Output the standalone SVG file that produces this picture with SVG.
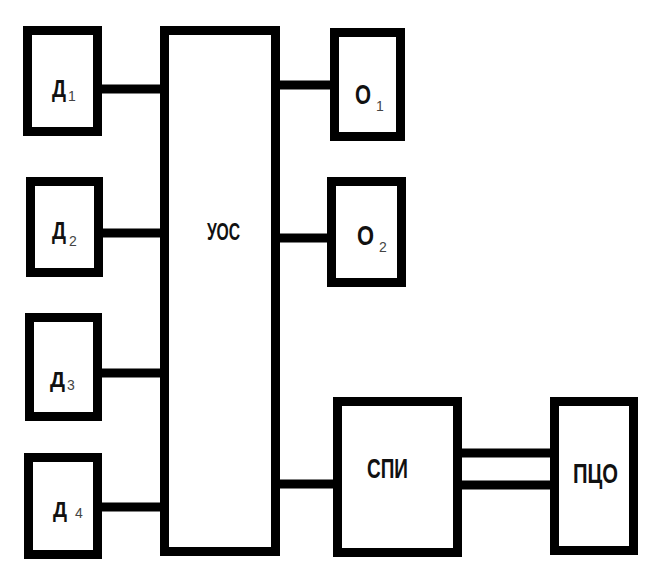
<svg xmlns="http://www.w3.org/2000/svg" width="650" height="581" viewBox="0 0 650 581">
<style>
.box{fill:#fff;stroke:#000;stroke-width:9}
.wire{stroke:#000;stroke-width:9;fill:none}
.lbl{font-family:"Liberation Sans",Arial,sans-serif;font-weight:bold;fill:#111}
.sub{font-family:"Liberation Sans",Arial,sans-serif;font-size:14px;fill:#444}
</style>
<rect width="650" height="581" fill="#fff"/>
<g id="connectors">
<line class="wire" x1="100" y1="89" x2="162" y2="89"/>
<line class="wire" x1="100" y1="233" x2="162" y2="233"/>
<line class="wire" x1="100" y1="373" x2="162" y2="373"/>
<line class="wire" x1="100" y1="507" x2="162" y2="507"/>
<line class="wire" x1="278" y1="85" x2="332" y2="85"/>
<line class="wire" x1="278" y1="238" x2="329" y2="238"/>
<line class="wire" x1="278" y1="484" x2="335" y2="484"/>
<line class="wire" x1="460" y1="453" x2="552" y2="453"/>
<line class="wire" x1="460" y1="485" x2="552" y2="485"/>
</g>
<g id="d1">
<rect class="box" x="27.5" y="30.5" width="70" height="101"/>
<text class="lbl" x="52" y="97" font-size="24" textLength="14" lengthAdjust="spacingAndGlyphs">Д</text>
<text class="sub" x="68" y="101">1</text>
</g>
<g id="d2">
<rect class="box" x="30.5" y="181.5" width="68" height="91"/>
<text class="lbl" x="52" y="239" font-size="24" textLength="14" lengthAdjust="spacingAndGlyphs">Д</text>
<text class="sub" x="69" y="246">2</text>
</g>
<g id="d3">
<rect class="box" x="29.5" y="317.5" width="68" height="99"/>
<text class="lbl" x="50" y="387" font-size="22" textLength="15" lengthAdjust="spacingAndGlyphs">Д</text>
<text class="sub" x="67" y="390">3</text>
</g>
<g id="d4">
<rect class="box" x="28.5" y="457.5" width="69" height="97"/>
<text class="lbl" x="53" y="517" font-size="22" textLength="14" lengthAdjust="spacingAndGlyphs">Д</text>
<text class="sub" x="75" y="518">4</text>
</g>
<g id="uos">
<rect class="box" x="164.5" y="30.5" width="111" height="521"/>
<text class="lbl" x="207" y="240" font-size="23" textLength="33" lengthAdjust="spacingAndGlyphs">УОС</text>
</g>
<g id="o1">
<rect class="box" x="334.5" y="32.5" width="66" height="104"/>
<text class="lbl" x="355" y="104" font-size="27" textLength="16" lengthAdjust="spacingAndGlyphs">О</text>
<text class="sub" x="376" y="111">1</text>
</g>
<g id="o2">
<rect class="box" x="331.5" y="181.5" width="70" height="101"/>
<text class="lbl" x="357" y="245" font-size="27" textLength="17" lengthAdjust="spacingAndGlyphs">О</text>
<text class="sub" x="379" y="252">2</text>
</g>
<g id="spi">
<rect class="box" x="337.5" y="401.5" width="120" height="151"/>
<text class="lbl" x="367" y="478" font-size="27" textLength="41" lengthAdjust="spacingAndGlyphs">СПИ</text>
</g>
<g id="pco">
<rect class="box" x="554.5" y="401.5" width="79" height="149"/>
<text class="lbl" x="573" y="483" font-size="27" textLength="45" lengthAdjust="spacingAndGlyphs">ПЦО</text>
</g>
</svg>
